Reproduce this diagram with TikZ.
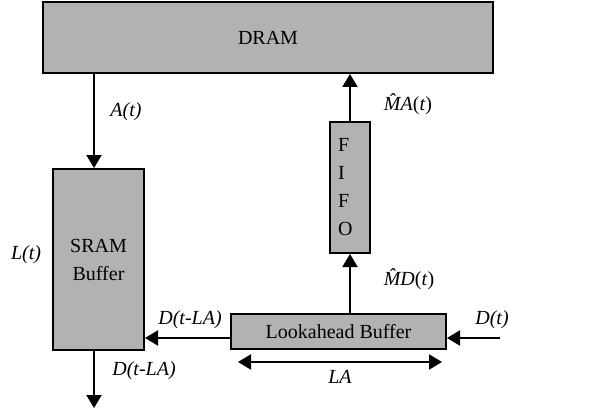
\documentclass[tikz,border=0pt]{standalone}
\usepackage{fontspec}
\setmainfont{Liberation Serif}
\usetikzlibrary{arrows.meta}
\begin{document}
\begin{tikzpicture}[x=0.5pt,y=-0.5pt,
    blk/.style={draw, line width=1pt, fill=boxgray, inner sep=0pt},
    arr/.style={line width=1pt, -{Triangle[length=6.5pt,width=7.5pt]}},
    lbl/.style={inner sep=0pt, font=\itshape}]
                        \useasboundingbox (0,0) rectangle (613,411);
                        {\fontsize{10}{14}\selectfont

                        % Changing color 179 179 179
                        \definecolor{boxgray}{rgb}{0.700000,0.700000,0.700000}%

                        % Drawing blocks
                        \node [blk, minimum width=225pt, minimum height=35.5pt] (dram) at (268.0,37.5) {DRAM};%
                        \node [blk, minimum width=45.5pt, minimum height=90.5pt, align=center] (sram) at (98.5,259.5) {SRAM\\Buffer};%
                        \node [blk, minimum height=65.5pt, text width=12pt, inner xsep=4pt, align=left] (fifo) at (350.0,187.5) {F\\I\\F\\O};%
                        \node [blk, minimum width=107.5pt, minimum height=17.5pt] (look) at (338.5,331.5) {Lookahead Buffer};%

                        % Drawing free ends
                        \coordinate (acol) at (94.0,0.0);%
                        \coordinate (din) at (500.0,338.0);%
                        \coordinate (dout) at (94.0,408.0);%
                        \coordinate (laleft) at (238.0,362.0);%
                        \coordinate (laright) at (442.0,362.0);%

                        % Drawing connectors
                        \draw [arr] (acol |- dram.south) -- (acol |- sram.north);%
                        \draw [arr] (fifo.north) -- (fifo.north |- dram.south);%
                        \draw [arr] (look.north -| fifo.south) -- (fifo.south);%
                        \draw [arr] (din) -- (din -| look.east);%
                        \draw [arr] (look.west |- din) -- (sram.east |- din);%
                        \draw [arr] (acol |- sram.south) -- (dout);%
                        \draw [line width=1pt, {Triangle[length=6.5pt,width=7.5pt]}-{Triangle[length=6.5pt,width=7.5pt]}] (laleft) -- (laright);%

                        % Drawing labels
                        \node [lbl] (atlbl) at (126.0,112.0) {A(t)};%
                        \node [lbl, font=\upshape] (malbl) at (408.0,104.0) {\textit{\^{M}A}(\textit{t})};%
                        \node [lbl] (ltlbl) at (26.0,255.0) {L(t)};%
                        \node [lbl, font=\upshape] (mdlbl) at (409.0,279.0) {\textit{\^{M}D}(\textit{t})};%
                        \node [lbl] (dlatop) at (190.0,320.0) {D(t-LA)};%
                        \node [lbl] (dtlbl) at (492.0,320.0) {D(t)};%
                        \node [lbl] (dlabot) at (144.0,371.0) {D(t-LA)};%
                        \node [lbl] (lalbl) at (340.0,377.0) {LA};%
                        }
                        \end{tikzpicture}
\end{document}
